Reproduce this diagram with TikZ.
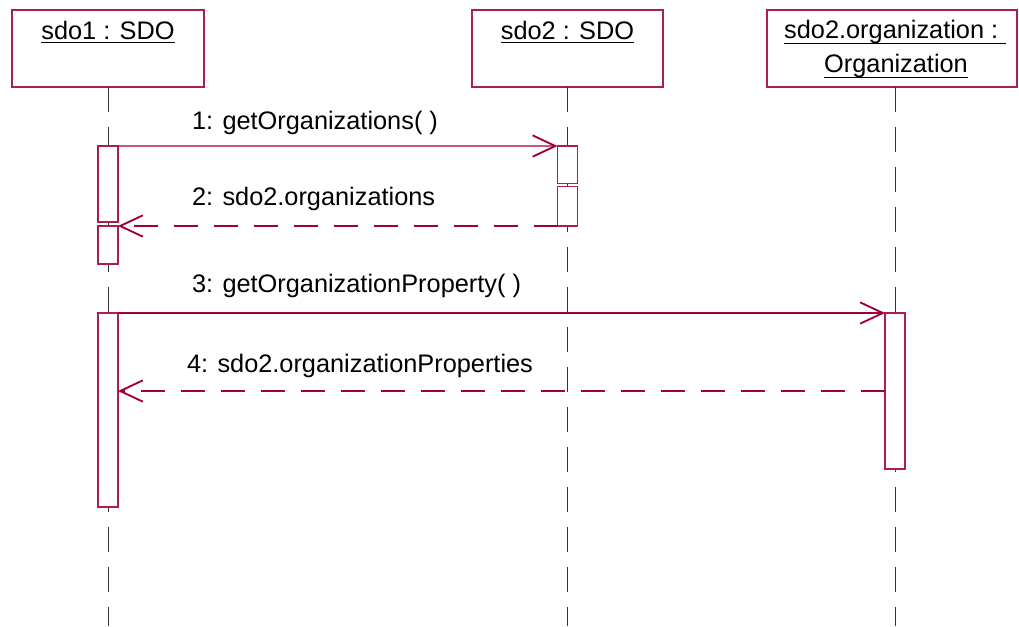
\documentclass[tikz,border=0pt]{standalone}
\usepackage{fontspec}
\setmainfont{Liberation Sans}
\usetikzlibrary{arrows.meta}
\definecolor{uml}{RGB}{160,0,60}
\definecolor{umlbox}{RGB}{175,30,75}
\begin{document}
\begin{tikzpicture}[x=0.75pt,y=-0.75pt,
  every node/.style={font=\fontsize{19}{23}\selectfont, inner sep=0pt, outer sep=0pt},
  objbox/.style={draw=umlbox, line width=0.8pt, fill=white, anchor=north west, minimum height=57.75pt},
  actbox/.style={draw=umlbox, line width=0.8pt, fill=white, minimum width=15pt},
  lifeline/.style={draw=black!80, line width=0.75pt, dash pattern=on 18.75pt off 11.25pt},
  call/.style={draw=uml, line width=0.8pt, -{Straight Barb[length=17pt,width=16pt,line width=1.4pt]}},
  reply/.style={call, dash pattern=on 18pt off 12pt},
  uline/.style={draw=black, line width=1.1pt},
  lbl/.style={anchor=base west}]
\useasboundingbox (0,0) rectangle (1019,626);

% object boxes
\node[objbox, minimum width=144pt] (o1) at (12,10) {};
\node[objbox, minimum width=143.25pt] (o2) at (472,10) {};
\node[objbox, minimum width=187.5pt] (o3) at (767,10) {};
\node[anchor=base] (t1) at (108,39) {sdo1 : SDO};
\node[anchor=base] (t2) at (567.5,39) {sdo2 : SDO};
\node[anchor=base] (t3a) at (895,38) {sdo2.organization :\kern0.3em};
\node[anchor=base] (t3b) at (896,72) {Organization};
\draw[uline] ([yshift=-2.6pt]t1.base west) -- ([yshift=-2.6pt]t1.base east);
\draw[uline] ([yshift=-2.6pt]t2.base west) -- ([yshift=-2.6pt]t2.base east);
\draw[uline] ([yshift=-4pt]t3a.base west) -- ([yshift=-4pt]t3a.base east);
\draw[uline] ([yshift=-4pt]t3b.base west) -- ([yshift=-4pt]t3b.base east);

% lifelines
\coordinate (e1) at (108,626);
\coordinate (e2) at (567,626);
\coordinate (e3) at (895,626);
\draw[lifeline] (o1.south -| e1) -- (e1);
\draw[lifeline] (o2.south -| e2) -- (e2);
\draw[lifeline] (o3.south -| e3) -- (e3);

% activations
\node[actbox, minimum height=57pt] (a1) at (108,184) {};
\node[actbox, minimum height=28.5pt] (a2) at (108,245) {};
\node[actbox, minimum height=145.5pt] (a3) at (108,410) {};
\node[actbox, minimum height=28.1pt] (b1) at (567.5,164.75) {};
\node[actbox, minimum height=29.6pt] (b2) at (567.5,206.25) {};
\node[actbox, minimum height=117pt] (c1) at (895,391) {};

% messages
\draw[call] (a1.north east) -- (b1.north west);
\draw[reply] (b2.south west) -- (b2.south west -| a2.east);
\draw[call] (a3.north east) -- (c1.north west);
\draw[reply] (c1.west) -- (c1.west -| a3.east);

% labels
\node[lbl] (m1) at (192,129) {1: getOrganizations( )};
\node[lbl] (m2) at (192,205) {2: sdo2.organizations};
\node[lbl] (m3) at (192,292) {3: getOrganizationProperty( )};
\node[lbl] (m4) at (187,372) {4: sdo2.organizationProperties};
\end{tikzpicture}
\end{document}
